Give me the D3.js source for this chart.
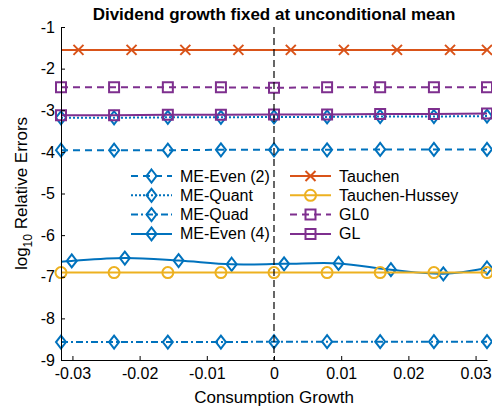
<!DOCTYPE html>
<html>
<head>
<meta charset="utf-8">
<script src="https://cdn.jsdelivr.net/npm/d3@7"></script>
<style>
  body { margin: 0; background: #fff; }
  text { font-family: "Liberation Sans", Arial, Helvetica, sans-serif; fill: #000; }
</style>
</head>
<body>
<svg id="chart" width="492" height="409"></svg>
<script>
// ---- data ----
const xTicks = [-0.03, -0.02, -0.01, 0, 0.01, 0.02, 0.03];
const yTicks = [-1, -2, -3, -4, -5, -6, -7, -8, -9];

// common 9-point growth grid
const gridX = [-0.0317, -0.0238, -0.0158, -0.0079, 0, 0.0079, 0.0158, 0.0238, 0.0317];

const meEven2Y = [-3.96, -3.96, -3.96, -3.95, -3.95, -3.95, -3.94, -3.94, -3.94];
const meQuantY = [-3.18, -3.18, -3.17, -3.17, -3.16, -3.16, -3.15, -3.15, -3.14];
const meQuadY = [-8.57, -8.57, -8.57, -8.57, -8.56, -8.56, -8.56, -8.56, -8.56];

const meEven4X = [-0.0317, -0.0301, -0.0222, -0.0142, -0.0063, 0.0015, 0.0096, 0.0174, 0.0252, 0.0317];
const meEven4Y = [-6.64, -6.62, -6.55, -6.61, -6.70, -6.69, -6.68, -6.83, -6.93, -6.79];
const meEven4Marks = [1, 2, 3, 4, 5, 6, 7, 8, 9];

const tauchenX = [-0.0317, -0.0291, -0.0212, -0.0132, -0.0053, 0.0025, 0.0104, 0.0183, 0.0262, 0.0317];
const tauchenY = [-1.55, -1.55, -1.55, -1.55, -1.55, -1.55, -1.55, -1.55, -1.55, -1.55];
const tauchenMarks = [1, 2, 3, 4, 5, 6, 7, 8, 9];

const tauchenHusseyY = [-6.90, -6.90, -6.90, -6.90, -6.90, -6.90, -6.90, -6.90, -6.90];
const gl0Y = [-2.45, -2.45, -2.45, -2.45, -2.46, -2.45, -2.45, -2.45, -2.45];
const glY = [-3.12, -3.12, -3.11, -3.11, -3.10, -3.10, -3.09, -3.09, -3.08];

const allIdx = gridX.map((d, i) => i);

const series = [
  { name: "ME-Even (2)", x: gridX, y: meEven2Y, marks: allIdx, color: "#0072BD", dash: "7,5", marker: "diamond" },
  { name: "ME-Quant", x: gridX, y: meQuantY, marks: allIdx, color: "#0072BD", dash: "2,2", marker: "diamond" },
  { name: "ME-Quad", x: gridX, y: meQuadY, marks: allIdx, color: "#0072BD", dash: "7,3,2,3", marker: "diamond" },
  { name: "ME-Even (4)", x: meEven4X, y: meEven4Y, marks: meEven4Marks, color: "#0072BD", dash: null, marker: "diamond", smooth: true },
  { name: "Tauchen", x: tauchenX, y: tauchenY, marks: tauchenMarks, color: "#D95319", dash: null, marker: "cross" },
  { name: "Tauchen-Hussey", x: gridX, y: tauchenHusseyY, marks: allIdx, color: "#EDB120", dash: null, marker: "circle" },
  { name: "GL0", x: gridX, y: gl0Y, marks: allIdx, color: "#7E2F8E", dash: "7,5", marker: "square" },
  { name: "GL", x: gridX, y: glY, marks: allIdx, color: "#7E2F8E", dash: null, marker: "square" }
];

// ---- layout ----
const svg = d3.select("#chart");
const mLeft = 61, mRight = 487, mTop = 27, mBottom = 360;

const x = d3.scaleLinear().domain([-0.0317, 0.0317]).range([mLeft, mRight]);
const y = d3.scaleLinear().domain([-9, -1]).range([mBottom, mTop]);

function markerPath(type) {
  if (type === "diamond") return "M0,-6.5L5,0L0,6.5L-5,0Z";
  if (type === "square") return "M-5,-5L5,-5L5,5L-5,5Z";
  if (type === "cross") return "M-5,-5L5,5M-5,5L5,-5";
  return "";
}

function drawMarker(g, type, color, cx, cy) {
  if (type === "circle") {
    g.append("circle").attr("cx", cx).attr("cy", cy).attr("r", 5.5)
      .attr("fill", "none").attr("stroke", color).attr("stroke-width", 2);
  } else {
    g.append("path").attr("d", markerPath(type))
      .attr("transform", `translate(${cx},${cy})`)
      .attr("fill", "none").attr("stroke", color).attr("stroke-width", 2);
  }
}

// ---- series ----
const plot = svg.append("g");
series.forEach(s => {
  const pts = s.x.map((d, i) => [d, s.y[i]]);
  const line = d3.line()
    .x(d => x(d[0]))
    .y(d => y(d[1]))
    .curve(s.smooth ? d3.curveCatmullRom.alpha(0.5) : d3.curveLinear);
  const g = plot.append("g");
  g.append("path")
    .attr("d", line(pts))
    .attr("fill", "none")
    .attr("stroke", s.color)
    .attr("stroke-width", 2)
    .attr("stroke-dasharray", s.dash);
  s.marks.forEach(i => drawMarker(g, s.marker, s.color, x(s.x[i]), y(s.y[i])));
});

// vertical dashed zero line
svg.append("line")
  .attr("x1", x(0)).attr("x2", x(0))
  .attr("y1", mTop).attr("y2", mBottom)
  .attr("stroke", "#000").attr("stroke-width", 1.2)
  .attr("stroke-dasharray", "7,4");

// ---- axes ----
const xAxis = d3.axisBottom(x).tickValues(xTicks).tickSizeInner(-4).tickSizeOuter(0)
  .tickPadding(8).tickFormat(d => String(d));
const gx = svg.append("g").attr("transform", `translate(0,${mBottom})`).call(xAxis);

const yAxis = d3.axisLeft(y).tickValues(yTicks).tickSizeInner(-4).tickSizeOuter(0)
  .tickPadding(6).tickFormat(d => String(d));
const gy = svg.append("g").attr("transform", `translate(${mLeft},0)`).call(yAxis);

[gx, gy].forEach(g => {
  g.select(".domain").attr("stroke", "#000").attr("stroke-width", 1);
  g.selectAll(".tick line").attr("stroke", "#000");
  g.selectAll(".tick text").attr("font-size", 16).attr("fill", "#000")
    .style("font-family", "'Liberation Sans', Arial, sans-serif");
});

// ---- titles ----
svg.append("text")
  .attr("x", (mLeft + mRight) / 2).attr("y", 20)
  .attr("text-anchor", "middle")
  .attr("font-size", 17).attr("font-weight", "bold")
  .text("Dividend growth fixed at unconditional mean");

svg.append("text")
  .attr("x", (mLeft + mRight) / 2).attr("y", 403)
  .attr("text-anchor", "middle")
  .attr("font-size", 17)
  .text("Consumption Growth");

const yl = svg.append("text")
  .attr("transform", `translate(27,${(mTop + mBottom) / 2}) rotate(-90)`)
  .attr("text-anchor", "middle")
  .attr("font-size", 17);
yl.append("tspan").text("log");
yl.append("tspan").attr("font-size", 12).attr("dy", 5).text("10");
yl.append("tspan").attr("dy", -5).text(" Relative Errors");

// ---- legend ----
const legend = svg.append("g");
series.forEach((s, i) => {
  const col = Math.floor(i / 4), row = i % 4;
  const lx = col === 0 ? 131 : 290;
  const ly = 176 + row * 19.3;
  const g = legend.append("g");
  g.append("line")
    .attr("x1", lx).attr("x2", lx + 41)
    .attr("y1", ly).attr("y2", ly)
    .attr("stroke", s.color).attr("stroke-width", 2)
    .attr("stroke-dasharray", s.dash);
  drawMarker(g, s.marker, s.color, lx + 20.5, ly);
  g.append("text")
    .attr("x", lx + 49).attr("y", ly + 5.5)
    .attr("font-size", 16)
    .text(s.name);
});
</script>
</body>
</html>
